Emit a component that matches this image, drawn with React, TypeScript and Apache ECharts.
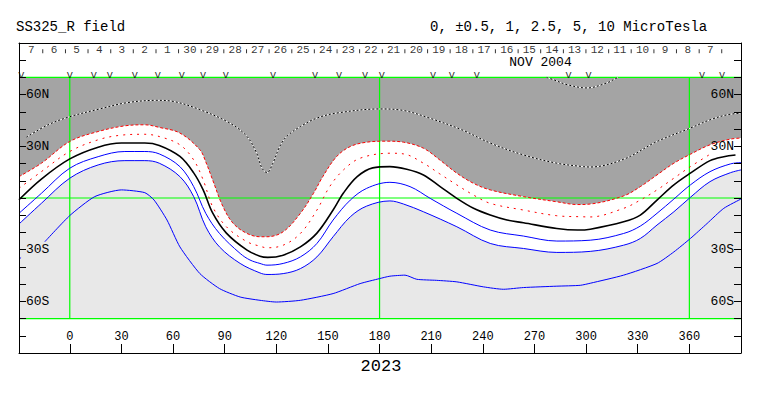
import React, { useEffect, useRef } from 'react';
import * as echarts from 'echarts';

const FONT = '"Liberation Mono", "DejaVu Sans Mono", monospace';

// Axis values
const lonTicks = [0, 30, 60, 90, 120, 150, 180, 210, 240, 270, 300, 330, 360];
const latLabelValues = [60, 30, -30, -60];
const greenLats = [-70, 0, 70];
const greenLons = [0, 180, 360];
const PLOT_LAT = 70;

// Top strip: day-of-month labels (Carrington longitude positions)
const dayLabels = ['7', '6', '5', '4', '3', '2', '1', '30', '29', '28', '27', '26', '25', '24', '23', '22', '21', '20', '19', '18', '17', '16', '15', '14', '13', '12', '11', '10', '9', '8', '7'];
const dayLons = [-22.3, -9.1, 4.0, 17.2, 30.3, 43.5, 56.6, 69.8, 82.9, 96.1, 109.2, 122.4, 135.5, 148.7, 161.8, 175.0, 188.1, 201.3, 214.4, 227.6, 240.7, 253.9, 267.0, 280.2, 293.3, 306.5, 319.6, 332.8, 345.9, 359.1, 372.2];
const dayTickLons = [-15.7, -2.5, 10.6, 23.8, 36.9, 50.1, 63.2, 76.4, 89.5, 102.7, 115.8, 129.0, 142.1, 155.3, 168.4, 181.6, 194.7, 207.9, 221.0, 234.2, 247.3, 260.5, 273.6, 286.8, 299.9, 313.1, 326.2, 339.4, 352.5, 365.7, 378.8];
// observation markers "v"
const obsLons = [-28.1, 0, 14, 23.3, 37.8, 51.2, 65.1, 77.4, 90.7, 118.1, 142.5, 156.4, 171.6, 181.3, 211.1, 222, 236.5, 289.8, 301.4, 367.4, 379];

// Contours [longitude, latitude]
const dottedUpper: number[][] = [
  [-25.2, 35.3], [-12.6, 42.5], [0, 47.2], [16.5, 51.5], [33, 55.3], [50.6, 56.7], [60, 56.1], [75.6, 51.3],
  [93, 43.5], [103, 35.7], [108.6, 26], [111.7, 17.3], [114.6, 14.7], [118, 20.2], [122, 29.9], [126, 35.7],
  [134, 41.5], [143.6, 46.4], [155, 49.3], [180, 51.7], [194, 50.8], [209, 46.4], [227.8, 39.6], [244.3, 31.9],
  [263.6, 25], [283, 20.2], [298.5, 18.2], [302.4, 18], [321.8, 22.5], [341.2, 32.8], [360.6, 40.6], [372, 45.4],
  [382, 48.3], [390, 49.3],
];
const dottedTop: number[][] = [
  [277, 70], [281, 68.7], [289, 65.8], [300.5, 63.9], [312, 66.8], [317, 69.3], [318.5, 70],
];
const redOuter: number[][] = [
  [-29.5, 12.4], [-16.5, 20.2], [0, 32.8], [16.5, 38.6], [32, 41.9], [43.6, 42.5], [52, 41], [64, 37.7],
  [75.6, 28], [79, 21], [83, 10.5], [89, -5], [95, -14.8], [103, -20.6], [110.5, -22.5], [114.6, -22.5],
  [124, -19.6], [134, -8.9], [141.6, 2.7], [147, 12.4], [155, 24], [163, 29.9], [172.5, 32.4], [184, 33],
  [194, 32.4], [205.5, 28.9], [215, 22.1], [224.9, 14.4], [234.6, 8.5], [244.3, 4.7], [263.6, 0.8], [283, -2.2],
  [295, -3.8], [302.4, -3.5], [321.8, 1.2], [331.5, 6.6], [341.2, 13.4], [351, 20.2], [360.6, 25.4], [372, 30.9],
  [383.9, 34.2], [390, 34.8],
];
const redInner: number[][] = [
  [-29.5, 5.6], [-16.5, 15.3], [0, 27], [16.5, 33.8], [30, 36.5], [43.6, 37], [52, 35.7], [64, 30.9],
  [72, 22.1], [77.5, 10.5], [83, -5], [91, -16.7], [103, -25.4], [110.5, -28], [114.6, -28.9], [124, -27.4],
  [134, -20.6], [143.6, -7], [151, 6.6], [159, 16.3], [168.7, 23.1], [186, 26], [194, 25.6], [205.5, 20.2],
  [215, 14], [224.9, 7.6], [234.6, 1.7], [244.3, -3.1], [263.6, -7], [283, -10.3], [298, -10.9], [302.4, -11],
  [321.8, -6], [331.5, -1.2], [341.2, 4.7], [351, 11.5], [360.6, 18.2], [373, 26],
];
const neutralLine: number[][] = [
  [-29.5, -1], [-16.5, 11], [0, 22.7], [16.5, 29.5], [30, 31.9], [43.6, 31.9], [52, 30.5], [64, 24.1],
  [72, 14.6], [77.5, 4.7], [83, -8.7], [91, -20.4], [103, -30.3], [110.5, -33.8], [115, -34.5], [124, -33.2],
  [134, -28.4], [143.6, -20.4], [153, -7], [159, 2.9], [167, 12.4], [176, 17.5], [186, 18.2], [195.8, 16.7],
  [205.5, 13.4], [215.2, 6.6], [224.9, -0.2], [234.6, -6], [244.3, -9.9], [254, -12.8], [263.6, -14.4], [283, -17.7],
  [295, -18.6], [302.4, -18.1], [321.8, -13.8], [331.5, -9.9], [341.2, -1.2], [351, 7.6], [360.6, 14.4], [372, 21.7],
  [380, 24], [386.8, 25],
];
const blueOne: number[][] = [
  [-29.5, -8.9], [-16.5, 2.7], [0, 17.3], [16.5, 24], [32, 27], [43.6, 27], [52, 25.6], [64, 18.2],
  [72, 6.6], [79, -8.9], [87, -20.6], [99, -32.2], [104.7, -36], [110.5, -38], [114.6, -39], [124, -38],
  [134, -34.2], [143.6, -26.4], [153, -12.8], [163, -1.2], [172.5, 5.6], [186, 9.1], [197.7, 6.6], [209.4, -0.2],
  [224.9, -8.9], [244.3, -18.6], [263.6, -22.1], [283, -25], [302.4, -24.5], [321.8, -20.6], [331.5, -16.3], [341.2, -8.9],
  [351, -0.6], [360.6, 7.6], [372, 15.3], [383.9, 19.8], [390, 20.6],
];
const blueTwo: number[][] = [
  [-29.5, -15.1], [-16.5, -3.1], [0, 11.5], [16.5, 19.2], [32, 21.7], [43.6, 21.7], [52, 20.2], [64, 12.4],
  [72, 0.8], [79, -16.7], [87, -28.4], [99, -38], [110.5, -43.5], [114.6, -44.4], [124, -43.9], [134, -41],
  [143.6, -34.2], [153, -22.5], [163, -10.9], [172.5, -4.7], [186, -1.7], [193.9, -3.5], [205.5, -8], [224.9, -16.7],
  [244.3, -26.4], [263.6, -29.3], [283, -31.6], [302.4, -31], [321.8, -27.4], [331.5, -23.5], [341.2, -15.7], [351, -8],
  [360.6, 0.4], [372, 9.5], [383.9, 14.7], [390, 16.3],
];
const blueThree: (number[] | null)[] = [
  [-29.5, -35.5], [-28.3, -34.6], null,
  [-14.5, -25.4], [0, -10.2], [14.5, 0.8], [30, 4.7], [43.6, 3.1], [49, -1.2], [56.5, -12.8], [64, -28.4],
  [75.6, -43.9], [87, -52.6], [99, -57.5], [110.5, -59.4], [120, -60.4], [134, -59.4], [153, -55.5], [168.7, -49.7],
  [180, -46.8], [186, -45.4], [194.8, -44.8], [201.6, -47.2], [213, -47.8], [224.9, -48.7], [240.4, -51.6], [252, -53],
  [263.6, -52], [283, -51.2], [296.6, -50.7], [302.4, -49.5], [321.8, -44.8], [341.2, -38], [351, -31.3], [360.6, -23.5],
  [370.3, -14.8], [380, -6], [390, -0.6],
];

const LON_MIN = -29.5;
const LON_MAX = 390;

function latFmt(v: number): string {
  if (!latLabelValues.includes(v)) return '';
  return v > 0 ? `${v}N` : `${-v}S`;
}

function contour(data: any[], color: string, width: number, type: any, z: number, smooth: number | boolean = 0.35) {
  return {
    type: 'line',
    data: data.map((d) => (d ? d : '-')),
    symbol: 'none',
    smooth,
    connectNulls: false,
    silent: true,
    z,
    lineStyle: { color, width, type },
  };
}

function fill(data: number[][], color: string, origin: any, z: number, smooth: number | boolean = 0.35) {
  return {
    type: 'line', data, symbol: 'none', smooth, silent: true, z,
    lineStyle: { opacity: 0, width: 0 },
    areaStyle: { color, origin, opacity: 1 },
  };
}

export default function App() {
  const ref = useRef<HTMLDivElement>(null);
  useEffect(() => {
    const chart = echarts.init(ref.current!, null, { renderer: 'svg' });
    const axisLineStyle = { color: '#000', width: 1 };
    const greenSeries = [
      ...greenLats.map((v) => [[LON_MIN, v], [LON_MAX, v]]),
      ...greenLons.map((v) => [[v, -PLOT_LAT], [v, PLOT_LAT]]),
    ].map((d) => ({
      type: 'line', data: d, symbol: 'none', silent: true, z: 3,
      lineStyle: { color: '#00ff00', width: 1.2, type: 'solid' },
    }));
    const option: any = {
      animation: false,
      grid: { left: 19, right: 22, top: 43, bottom: 43, containLabel: false },
      xAxis: [
        {
          type: 'value', min: LON_MIN, max: LON_MAX, position: 'bottom', z: 6,
          axisLine: { show: true, onZero: false, lineStyle: axisLineStyle },
          axisTick: { show: true, inside: true, length: 9, customValues: lonTicks, lineStyle: axisLineStyle },
          axisLabel: { show: true, inside: true, margin: 10, customValues: lonTicks, fontFamily: FONT, fontSize: 12, color: '#000' },
          splitLine: { show: false },
        },
        {
          type: 'value', min: LON_MIN, max: LON_MAX, position: 'top', z: 6,
          axisLine: { show: true, onZero: false, lineStyle: axisLineStyle },
          axisTick: { show: false }, axisLabel: { show: false }, splitLine: { show: false },
        },
      ],
      yAxis: [
        {
          type: 'value', min: -90, max: 90, interval: 10, position: 'left', z: 6,
          axisLine: { show: true, onZero: false, lineStyle: axisLineStyle },
          axisTick: { show: true, inside: true, length: 7, lineStyle: axisLineStyle },
          axisLabel: { show: true, inside: true, margin: 7, formatter: latFmt, fontFamily: FONT, fontSize: 13, color: '#000' },
          splitLine: { show: false },
        },
        {
          type: 'value', min: -90, max: 90, interval: 10, position: 'right', z: 6,
          axisLine: { show: true, onZero: false, lineStyle: axisLineStyle },
          axisTick: { show: true, inside: true, length: 7, lineStyle: axisLineStyle },
          axisLabel: { show: true, inside: true, margin: 7, formatter: latFmt, fontFamily: FONT, fontSize: 13, color: '#000' },
          splitLine: { show: false },
        },
      ],
      series: [
        fill(redOuter, '#a4a4a4', PLOT_LAT, 1),
        fill(blueTwo, '#e8e8e8', -PLOT_LAT, 1),
        ...greenSeries,
        contour(dottedUpper, '#ffffff', 1, 'solid', 4),
        contour(dottedUpper, '#000000', 1, [2, 2], 4),
        contour(dottedTop, '#ffffff', 1, 'solid', 4),
        contour(dottedTop, '#000000', 1, [2, 2], 4),
        contour(redOuter, '#ff0000', 1, [3, 2], 4),
        contour(redInner, '#ff0000', 1, [2, 5], 4),
        contour(neutralLine, '#000000', 1.6, 'solid', 4),
        contour(blueOne, '#0000ff', 1, 'solid', 4),
        contour(blueTwo, '#0000ff', 1, 'solid', 4),
        contour(blueThree, '#0000ff', 1, 'solid', 4, 0.2),
        {
          type: 'scatter', silent: true, z: 5,
          data: dayLons.map((lon, i) => [lon, 86.1, dayLabels[i]]),
          symbolSize: 1, itemStyle: { color: 'rgba(0,0,0,0)' },
          label: { show: true, position: 'inside', formatter: (p: any) => p.value[2], fontFamily: FONT, fontSize: 11, lineHeight: 10, color: '#000' },
        },
        {
          type: 'scatter', silent: true, z: 5,
          data: dayTickLons.map((lon) => [lon, 85.2]),
          symbol: 'rect', symbolSize: [1, 4], itemStyle: { color: '#000' },
        },
        {
          type: 'scatter', silent: true, z: 5,
          data: obsLons.map((lon) => [lon, 71.7]),
          symbolSize: 1, itemStyle: { color: 'rgba(0,0,0,0)' },
          label: { show: true, position: 'inside', formatter: 'v', fontFamily: FONT, fontSize: 11, lineHeight: 8, color: '#000' },
        },
      ],
      graphic: [
        { type: 'text', left: 16, top: 20, style: { text: 'SS325_R field', font: `14px ${FONT}`, fill: '#000' } },
        { type: 'text', left: 430, top: 20, style: { text: '0, ±0.5, 1, 2.5, 5, 10 MicroTesla', font: `14px ${FONT}`, fill: '#000' } },
        { type: 'text', x: 540.5, y: 62.5, z: 10, style: { text: 'NOV 2004', font: `13px ${FONT}`, lineHeight: 12, fill: '#000', textAlign: 'center', textVerticalAlign: 'middle' } },
        { type: 'text', x: 381, y: 366, style: { text: '2023', font: `17px ${FONT}`, fill: '#000', textAlign: 'center', textVerticalAlign: 'middle' } },
      ],
    };
    chart.setOption(option);
    return () => chart.dispose();
  }, []);
  return <div ref={ref} style={{ position: 'absolute', left: 0, top: 0, width: 763, height: 396 }} />;
}
